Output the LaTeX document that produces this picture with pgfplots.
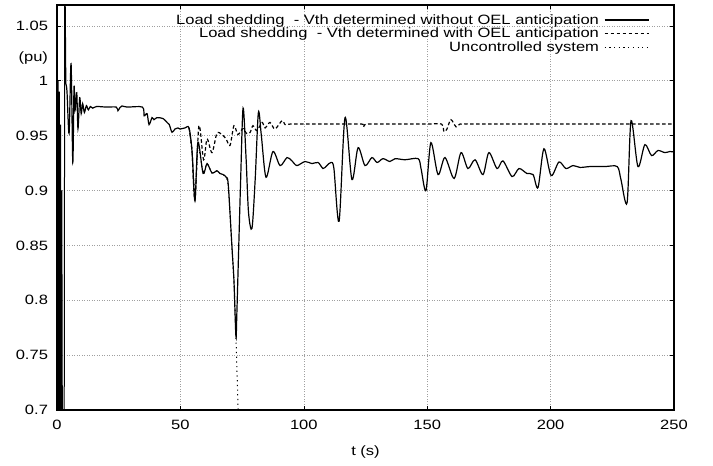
\documentclass[border=0pt]{standalone}
\usepackage{fontspec}
\setmainfont{Liberation Sans}[FakeStretch=1.225]
\usepackage{pgfplots}
\pgfplotsset{compat=1.18}
\begin{document}
\begin{tikzpicture}[font=\fontsize{13.5bp}{16bp}\selectfont]
\path[use as bounding box] (-57bp,-56bp) rectangle (656bp,410bp);
\begin{axis}[
  scale only axis, width=617bp, height=405bp,
  at={(0,0)}, anchor=south west,
  xmin=0, xmax=250, ymin=0.7, ymax=1.069,
  xtick={0,50,100,150,200,250},
  xticklabels={0,50,100,150,200,250},
  ytick={0.7,0.75,0.8,0.85,0.9,0.95,1,1.05},
  yticklabels={0.7,0.75,0.8,0.85,0.9,0.95,1,1.05},
  extra y ticks={1.0205},
  extra y tick labels={(pu)},
  extra y tick style={grid=none, major tick length=0pt},
  xticklabel style={yshift=-7bp},
  yticklabel style={xshift=-5.5bp},
  xlabel={t (s)},
  xlabel style={at={(axis description cs:0.5,0)}, anchor=center, yshift=-42bp},
  grid=major,
  major grid style={gray!75, line width=0.5bp, dash pattern=on 1bp off 1.5bp},
  tick align=inside, major tick length=4bp,
  tick style={black, line width=0.6bp},
  axis line style={line width=1.8bp},
  legend style={draw=none, fill=none, at={(axis description cs:0.965,0.985)}, anchor=north east,
    nodes={inner xsep=5bp, inner ysep=1.2bp}, row sep=0bp},
  legend cell align=right,
  legend plot pos=right,
  legend image code/.code={\draw[#1] (0bp,0bp) -- (44bp,0bp);},
]
% shared initial transient
\addplot[black, line width=1bp, forget plot] coordinates {
(0,1.012) (0.2,0.65) (0.45,1.0) (0.7,0.65) (0.95,0.99) (1.2,0.65) (1.45,0.96) (1.7,0.65) (1.95,0.9) (2.2,0.65) (2.9,0.65) (3.15,1.12) (3.6,0.997)
};
\addplot[black, line width=1.2bp, smooth, tension=0.5] coordinates {
(3.6,0.997)(4.05,0.99)(4.9,0.952)(5.7,1.0155)(6.4,0.9255)(6.9,0.9945)(7.3,0.973)(8.0,0.989)(8.5,0.9564)(9.2,0.9845)(9.8,0.970)(10.4,0.979)(11.1,0.971)(11.9,0.9773)(12.7,0.9735)(13.5,0.9765)(14.5,0.975)(16,0.9765)(20,0.976)(24.0,0.976)(24.7,0.9727)(25.5,0.9755)(26.3,0.977)(28.4,0.976)(34.6,0.976)(35.3,0.968)(36.5,0.970)(37.3,0.960)(38.5,0.9664)(39.3,0.9645)(40.5,0.9664)(43.0,0.9655)(44.6,0.962)(45.5,0.96)(46.6,0.953)(47.8,0.956)(49.0,0.957)(49.8,0.956)(51.9,0.957)(53.5,0.957)(54.7,0.936)(55.9,0.891)(57.1,0.944)(59.2,0.9155)(60.8,0.9245)(62.8,0.916)(64.8,0.918)(66.0,0.9155)(67.3,0.9145)(68.6,0.912)(69.4,0.905)(70.9,0.848)(71.7,0.818)(72.5,0.767)(72.9,0.79)(74.4,0.909)(75.4,0.975)(76.6,0.93)(77.6,0.88)(79.0,0.8655)(80.3,0.91)(81.6,0.971)(82.8,0.95)(84.7,0.912)(87.5,0.9355)(90.4,0.9227)(93.2,0.930)(95.2,0.927)(97.2,0.9227)(100.5,0.9264)(103.3,0.9245)(105.8,0.9255)(107.8,0.92)(109.4,0.9227)(111.0,0.9255)(112.2,0.92)(114.3,0.872)(116.7,0.9664)(119.5,0.910)(122.0,0.939)(124.8,0.9227)(127.6,0.930)(129.7,0.9255)(132.1,0.929)(134.9,0.9264)(137,0.929)(141,0.928)(146.3,0.929)(147.5,0.92)(149.5,0.900)(151.5,0.9436)(154.4,0.9145)(157.2,0.930)(160.9,0.911)(163.7,0.9345)(166.5,0.920)(169.4,0.928)(172.6,0.9145)(175.0,0.9345)(178.3,0.920)(180.7,0.927)(184.4,0.9127)(187.2,0.920)(190.4,0.9155)(192.9,0.9145)(194.9,0.9027)(197.3,0.938)(200.2,0.9136)(203.4,0.926)(206.2,0.920)(209.1,0.9227)(211.9,0.921)(216,0.9218)(222,0.9218)(227.0,0.9218)(228.5,0.91)(231.0,0.889)(232.6,0.9636)(235.4,0.9218)(238.2,0.9418)(240.9,0.9318)(243.5,0.9364)(246.3,0.9345)(248.3,0.9355)(250,0.935)
};
\addlegendentry{Load shedding\ \ - Vth determined without OEL anticipation}
\addplot[black, line width=1.2bp, smooth, tension=0.5, dash pattern=on 3.5bp off 2.5bp] coordinates {
(53.5,0.957)(54.7,0.936)(55.9,0.891)(57.5,0.959)(59.4,0.928)(60.8,0.947)(62.8,0.9345)(64.8,0.952)(66.8,0.951)(68.5,0.947)(70.1,0.941)(71.7,0.959)(73.3,0.951)(75.4,0.9564)(76.8,0.952)(78.2,0.9527)(79.4,0.959)(81.0,0.9545)(83.1,0.962)(84.3,0.957)(86.3,0.962)(88.3,0.956)(91.2,0.9636)(92.4,0.96)(94.4,0.9605)(100,0.9605)(110,0.9605)(123.5,0.9605)(124.3,0.958)(125.5,0.9605)(135,0.9605)(150,0.9605)(155.8,0.9605)(156.8,0.9536)(158.0,0.956)(159.6,0.9645)(161.7,0.958)(163.3,0.9605)(170,0.9605)(200,0.9605)(250,0.9605)
};
\addlegendentry{Load shedding\ \ - Vth determined with OEL anticipation}
\addplot[black, line width=1bp, dash pattern=on 1.2bp off 3.5bp] coordinates {
(53.5,0.957)(54.7,0.936)(55.9,0.891)(57.1,0.944)(59.2,0.9155)(60.8,0.9245)(62.8,0.916)(64.8,0.918)(66.0,0.9155)(67.3,0.9145)(68.6,0.912)(69.4,0.905)(70.9,0.848)(71.7,0.818)(72.5,0.767)(73.4,0.7)(73.6,0.69)
};
\addlegendentry{Uncontrolled system}
\end{axis}
\end{tikzpicture}
\end{document}
